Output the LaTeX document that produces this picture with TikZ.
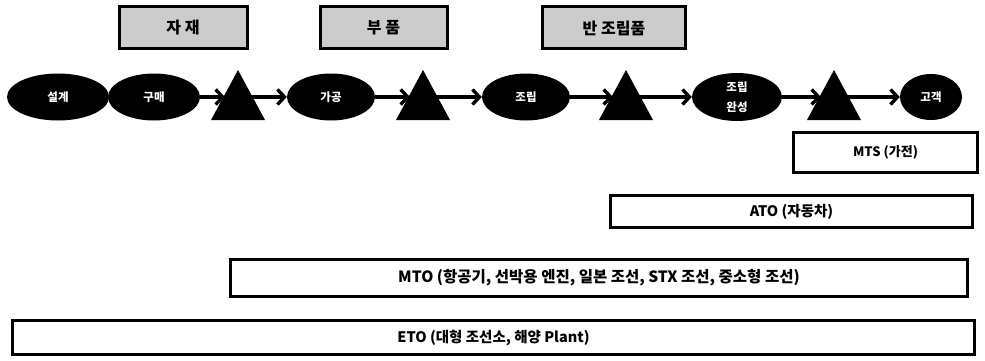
\documentclass[tikz,border=0pt]{standalone}
\usepackage{fontspec}
\setmainfont{Noto Sans CJK KR}[BoldFont={Noto Sans CJK KR Black}]
\usetikzlibrary{arrows.meta,shapes.geometric}
\begin{document}
\begin{tikzpicture}[x=1pt,y=-1pt,
  proc/.style={ellipse,fill=black,text=white,font=\bfseries\fontsize{11.5}{12}\selectfont,inner sep=0pt},
  stockbox/.style={draw=black,line width=3pt,fill=black!20,minimum height=42pt,font=\bfseries\fontsize{16}{17}\selectfont,inner sep=0pt},
  bar/.style={draw=black,line width=2.4pt,fill=white,inner sep=0pt},
  flow/.style={line width=3.6pt,-{Straight Barb[length=7pt,width=15pt,line width=3.4pt]}},
  tri/.style={fill=black}]
\useasboundingbox (0,0) rectangle (985,361);
% stock boxes
\node[stockbox,minimum width=128pt] (mat) at (183,28) {자 재};
\node[stockbox,minimum width=127pt] (part) at (383.5,28) {부 품};
\node[stockbox,minimum width=143pt] (semi) at (614,28) {반 조립품};
% process ellipses
\node[proc,minimum width=102pt,minimum height=47pt] (des) at (58,97) {설계};
\node[proc,minimum width=92pt,minimum height=47pt] (buy) at (154,97) {구매};
\node[proc,minimum width=88pt,minimum height=47pt] (mach) at (331,97) {가공};
\node[proc,minimum width=88pt,minimum height=47pt] (asm) at (526,97) {조립};
\node[proc,minimum width=90pt,minimum height=48pt,align=center] (fin) at (737,97) {조립\\[8pt]완성};
\node[proc,minimum width=62pt,minimum height=46pt] (cust) at (931,97) {고객};
% inventory triangles
\foreach \n/\cx in {t1/238,t2/423,t3/626,t4/834}{
  \fill[tri] (\cx-27,120) -- (\cx,70) -- (\cx+27,120) -- cycle;
  \coordinate (\n l) at (\cx-13,97);
  \coordinate (\n r) at (\cx+13,97);
}
% flows
\draw[flow] (buy.east) -- (t1l);
\draw[flow] (t1r) -- (mach.west);
\draw[flow] (mach.east) -- (t2l);
\draw[flow] (t2r) -- (asm.west);
\draw[flow] (asm.east) -- (t3l);
\draw[flow] (t3r) -- (fin.west);
\draw[flow] (fin.east) -- (t4l);
\draw[flow] (t4r) -- (cust.west);
% strategy bars
\node[bar,minimum width=184pt,minimum height=40pt,font=\bfseries\fontsize{13}{14}\selectfont] (mts) at (885.5,152.5) {MTS (가전)};
\node[bar,minimum width=362pt,minimum height=32pt,font=\bfseries\fontsize{14.5}{15}\selectfont] (ato) at (791.5,211.5) {ATO (자동차)};
\node[bar,minimum width=737pt,minimum height=37pt,font=\bfseries\fontsize{15.5}{16}\selectfont] (mto) at (599,278) {MTO (항공기, 선박용 엔진, 일본 조선, STX 조선, 중소형 조선)};
\node[bar,minimum width=962pt,minimum height=34pt,font=\bfseries\fontsize{14.5}{15}\selectfont] (eto) at (493.5,337.5) {ETO (대형 조선소, 해양 Plant)};
\end{tikzpicture}
\end{document}
